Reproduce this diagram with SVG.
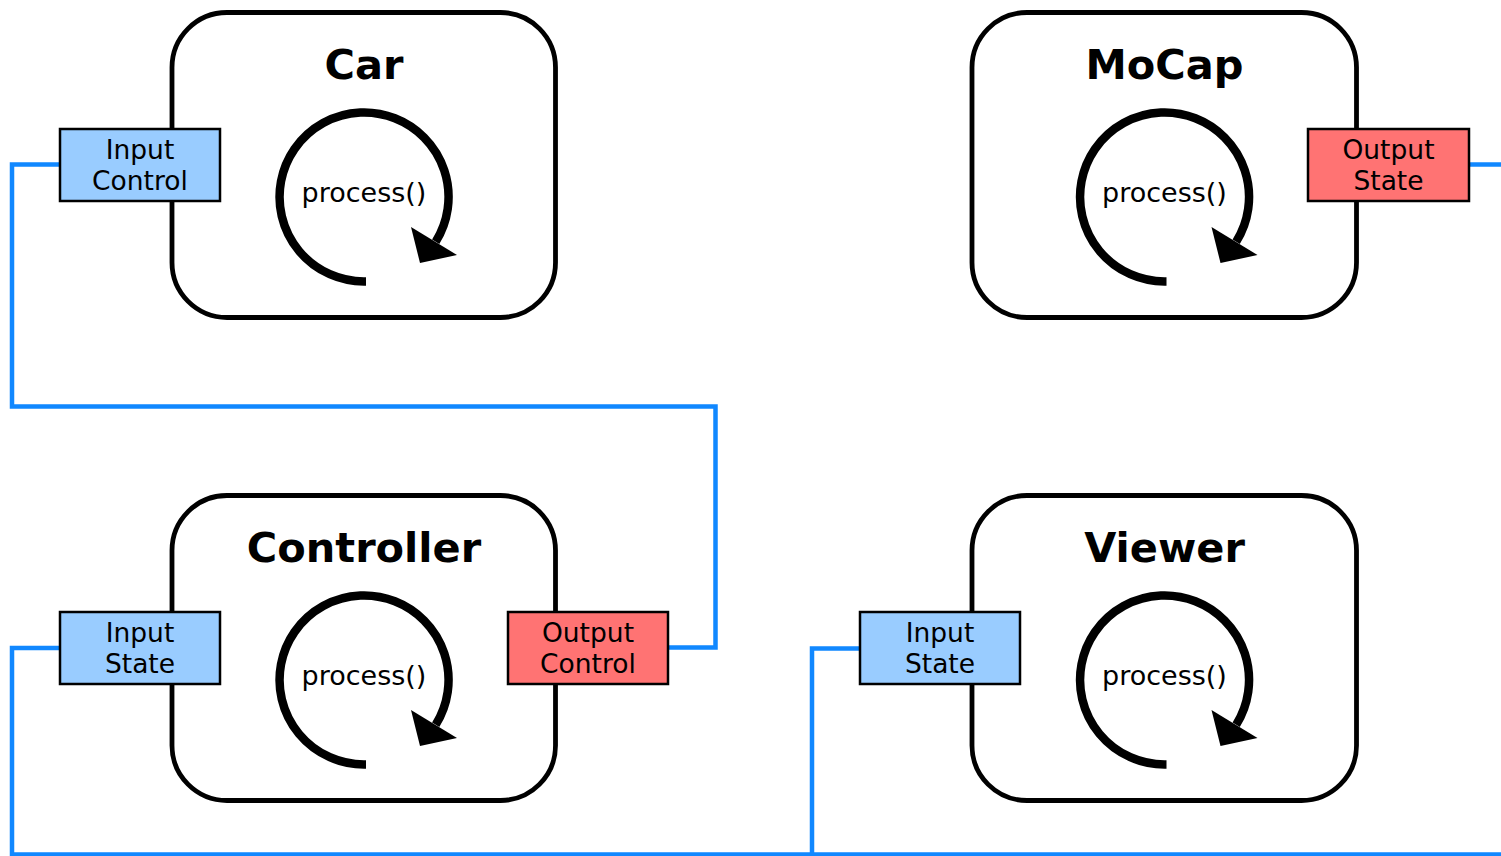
<svg xmlns="http://www.w3.org/2000/svg" xmlns:xlink="http://www.w3.org/1999/xlink" width="1501" height="856" viewBox="0 0 1501 856">
  <style>
    .box { fill: #ffffff; stroke: #000000; stroke-width: 4.8; }
    .title { font-family: "DejaVu Sans", Verdana, sans-serif; font-weight: bold; font-size: 41.5px; text-anchor: middle; fill: #000; }
    .proc { font-family: "DejaVu Sans", Verdana, sans-serif; font-size: 27px; text-anchor: middle; fill: #000; }
    .port { stroke: #000000; stroke-width: 2.5; }
    .in { fill: #99ccff; }
    .out { fill: #ff7373; }
    .plabel { font-family: "DejaVu Sans", Verdana, sans-serif; font-size: 26.5px; text-anchor: middle; fill: #000; }
    .wire { fill: none; stroke: #1188ff; stroke-width: 4.5; stroke-linejoin: miter; }
  </style>
  <defs>
    <!-- circular "process loop" arrow, centred on the origin -->
    <g id="loop">
      <path d="M 2 84.5 L 0 84.5 A 84.5 84.5 0 1 1 71.7 44.8" fill="none" stroke="#000" stroke-width="8.5"/>
      <polygon points="47,30 93,58 56,66" fill="#000"/>
    </g>
  </defs>

  <!-- connectors -->
  <g id="connectors">
    <path class="wire" d="M 60 164.5 H 12 V 406.5 H 715.5 V 647.5 H 668"/>
    <path class="wire" d="M 60 648 H 12 V 854.5 H 1501"/>
    <path class="wire" d="M 860 648.5 H 812 V 854.5"/>
    <path class="wire" d="M 1469 164.5 H 1501"/>
  </g>

  <!-- Car -->
  <g id="car">
    <rect class="box" x="172" y="12.5" width="383.5" height="305" rx="55"/>
    <text class="title" x="364" y="79">Car</text>
    <use xlink:href="#loop" x="364" y="197"/>
    <text class="proc" x="364" y="201.5">process()</text>
    <rect class="port in" x="60" y="129" width="160" height="72"/>
    <text class="plabel" x="140" y="158.5">Input</text>
    <text class="plabel" x="140" y="190">Control</text>
  </g>

  <!-- MoCap -->
  <g id="mocap">
    <rect class="box" x="972" y="12.5" width="384.5" height="305" rx="55"/>
    <text class="title" x="1164.5" y="79">MoCap</text>
    <use xlink:href="#loop" x="1164.5" y="197"/>
    <text class="proc" x="1164.5" y="201.5">process()</text>
    <rect class="port out" x="1308" y="129" width="161" height="72"/>
    <text class="plabel" x="1388.5" y="158.5">Output</text>
    <text class="plabel" x="1388.5" y="190">State</text>
  </g>

  <!-- Controller -->
  <g id="controller">
    <rect class="box" x="172" y="495.5" width="383.5" height="305" rx="55"/>
    <text class="title" x="364" y="562">Controller</text>
    <use xlink:href="#loop" x="364" y="680"/>
    <text class="proc" x="364" y="684.5">process()</text>
    <rect class="port in" x="60" y="612" width="160" height="72"/>
    <text class="plabel" x="140" y="641.5">Input</text>
    <text class="plabel" x="140" y="673">State</text>
    <rect class="port out" x="508" y="612" width="160" height="72"/>
    <text class="plabel" x="588" y="641.5">Output</text>
    <text class="plabel" x="588" y="673">Control</text>
  </g>

  <!-- Viewer -->
  <g id="viewer">
    <rect class="box" x="972" y="495.5" width="384.5" height="305" rx="55"/>
    <text class="title" x="1164.5" y="562">Viewer</text>
    <use xlink:href="#loop" x="1164.5" y="680"/>
    <text class="proc" x="1164.5" y="684.5">process()</text>
    <rect class="port in" x="860" y="612" width="160" height="72"/>
    <text class="plabel" x="940" y="641.5">Input</text>
    <text class="plabel" x="940" y="673">State</text>
  </g>
</svg>
